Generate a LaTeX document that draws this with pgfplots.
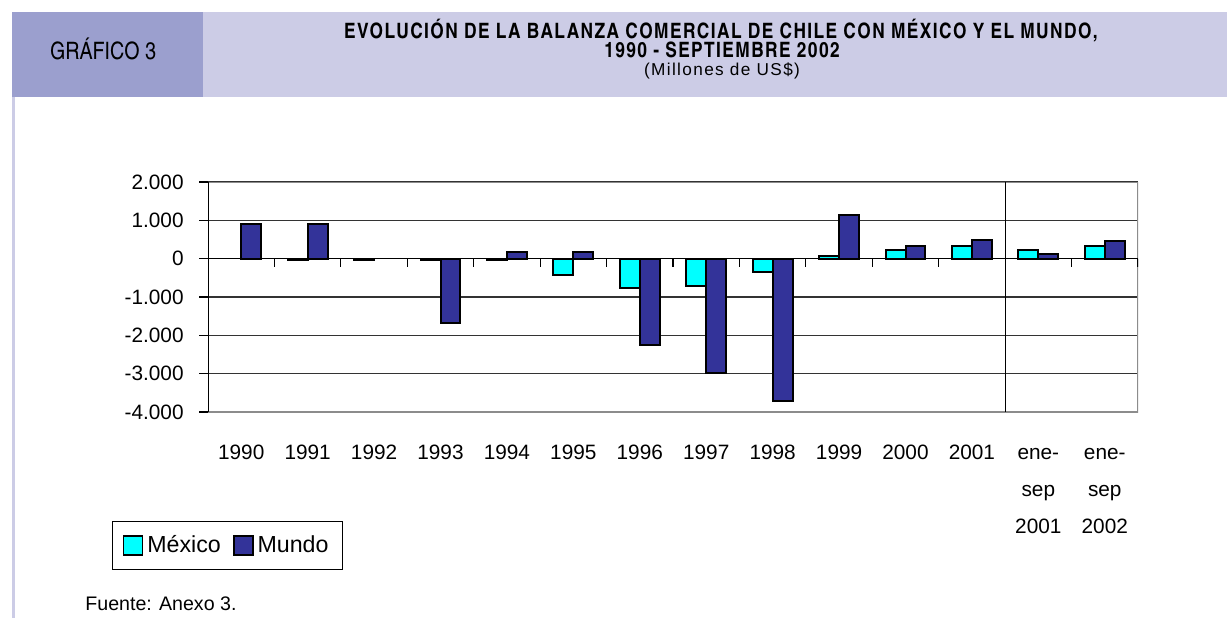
\documentclass[border=0pt]{standalone}
\usepackage{pgfplots}
\pgfplotsset{compat=1.18}
\usepackage{fontspec}
\setmainfont{Liberation Sans}
\newfontfamily\cnfont{texgyreheroscn}[Extension=.otf, UprightFont=*-regular, BoldFont=*-bold]
\definecolor{hdrdark}{RGB}{155,159,206}
\definecolor{hdrlight}{RGB}{204,204,230}
\definecolor{mexcol}{RGB}{0,255,255}
\definecolor{mundocol}{RGB}{51,51,153}
\definecolor{framegray}{RGB}{140,140,140}

\begin{document}
\begin{tikzpicture}
\path[use as bounding box, fill=white] (0,0) rectangle (613.5pt,309pt);
% header and page decoration, in pixel units (origin top left)
\begin{scope}[x=0.5pt, y=-0.5pt, shift={(0pt,309pt)}]
  \fill[hdrlight] (203,12) rectangle (1227,97);
  \fill[hdrdark] (12,12) rectangle (203,97);
  \fill[hdrlight] (12,97) rectangle (15,618);
  \node[anchor=base, inner sep=0pt, font=\cnfont\fontsize{12}{14}\selectfont] at (103,59) {GRÁFICO 3};
  \node[anchor=base, inner sep=0pt, font=\cnfont\bfseries\fontsize{10.6}{12}\selectfont\addfontfeatures{LetterSpace=6.5}] at (721,38)
    {EVOLUCIÓN DE LA BALANZA COMERCIAL DE CHILE CON MÉXICO Y EL MUNDO,};
  \node[anchor=base, inner sep=0pt, font=\cnfont\bfseries\fontsize{10.6}{12}\selectfont\addfontfeatures{LetterSpace=6.5}] at (722,57)
    {1990 - SEPTIEMBRE 2002};
  \node[anchor=base, inner sep=0pt, font=\fontsize{8.6}{10}\selectfont\addfontfeatures{LetterSpace=8}] at (722,75) {(Millones de US\$)};
  \node[anchor=base west, inner sep=0pt, font=\fontsize{9.8}{12}\selectfont] at (85,610) {Fuente: Anexo 3.};
\end{scope}

\begin{axis}[
    at={(104pt,103pt)}, anchor=south west,
    scale only axis, width=465pt, height=115pt,
    xmin=-0.5, xmax=13.5, ymin=-4000, ymax=2000,
    ybar, bar width=0.3,
    axis line style={draw=none},
    xtick={0,...,13},
    xticklabels={1990,1991,1992,1993,1994,1995,1996,1997,1998,1999,2000,2001,
        {\vphantom{2}ene-\\sep\\2001},{\vphantom{2}ene-\\sep\\2002}},
    xtick style={draw=none},
    ytick={-4000,-3000,-2000,-1000,0,1000,2000},
    yticklabels={-4.000,-3.000,-2.000,-1.000,0,1.000,2.000},
    ytick style={black, line width=0.6pt},
    tick align=outside, tick pos=left, major tick length=4.5pt,
    ymajorgrids, major grid style={line width=0.6pt, color=black!80},
    ticklabel style={font=\fontsize{10.4}{18.5}\selectfont},
    xticklabel style={anchor=north, align=center, inner sep=0pt, yshift=-12pt},
    yticklabel style={anchor=east, inner sep=0pt, xshift=-7.5pt},
    legend style={at={(axis description cs:-0.1032,-0.4739)}, anchor=north west,
        draw=black, line width=0.5pt, font=\fontsize{11.6}{13}\selectfont,
        inner xsep=5pt, inner ysep=5pt,
        /tikz/every even column/.append style={column sep=4pt}},
    legend columns=2,
    legend image code/.code={\draw[#1, line width=0.9pt] (0pt,-4.75pt) rectangle (9.5pt,4.75pt);},
]
\addplot[fill=mexcol, draw=black, line width=1pt, bar shift=-0.15] coordinates {
    (1,-40) (2,-35) (3,-35) (4,-35) (5,-435) (6,-760) (7,-700) (8,-350)
    (9,70) (10,235) (11,330) (12,235) (13,330)};
\addplot[fill=mundocol, draw=black, line width=1pt, bar shift=0.15] coordinates {
    (0,910) (1,910) (3,-1690) (4,175) (5,175) (6,-2250) (7,-2980) (8,-3710)
    (9,1130) (10,330) (11,500) (12,130) (13,470)};
\legend{México, Mundo}
% frame, zero line, separator and category ticks
\draw[framegray, line width=1pt] (axis cs:-0.5,2000) -- (axis cs:13.5,2000) -- (axis cs:13.5,-4000) -- (axis cs:-0.5,-4000);
\draw[black, line width=1pt] (axis cs:-0.5,2000) -- (axis cs:-0.5,-4000);
\draw[black, line width=0.6pt] (axis cs:-0.5,0) -- (axis cs:13.5,0);
\draw[black, line width=0.6pt] (axis cs:11.5,2000) -- (axis cs:11.5,-4000);
\pgfplotsinvokeforeach{0.5,1.5,2.5,3.5,4.5,5.5,6.5,7.5,8.5,9.5,10.5,11.5,12.5,13.5}{
  \draw[black, line width=0.6pt] (axis cs:#1,0) -- ++(0pt,-4pt);
}
\end{axis}
\end{tikzpicture}
\end{document}
